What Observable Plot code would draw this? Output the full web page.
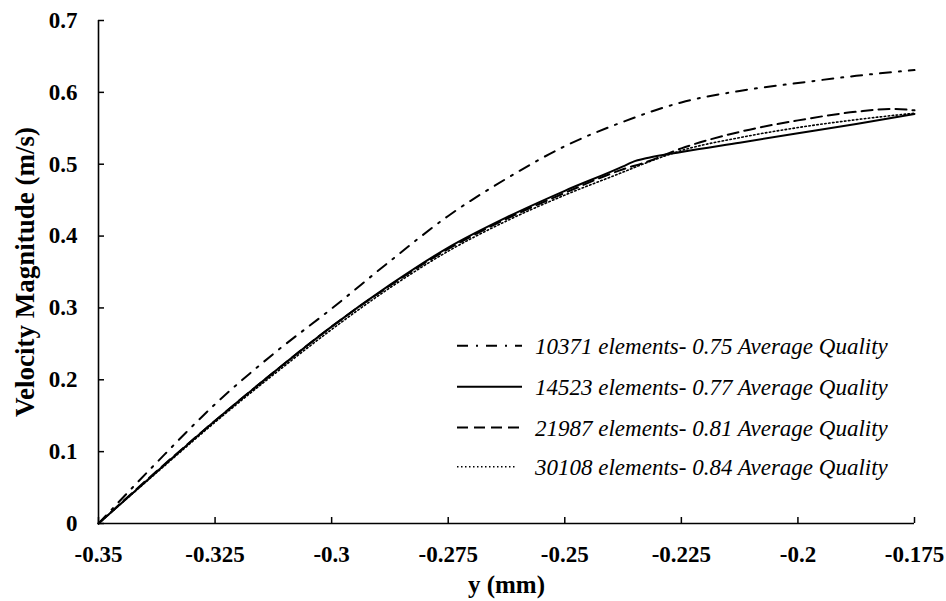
<!DOCTYPE html>
<html>
<head>
<meta charset="utf-8">
<script src="https://cdn.jsdelivr.net/npm/d3@7"></script>
<script src="https://cdn.jsdelivr.net/npm/@observablehq/plot@0.6"></script>
<style>
  html, body { margin: 0; padding: 0; background: #fff; overflow: hidden; }
  #wrap { position: relative; width: 946px; height: 601px; }
  #wrap svg { max-width: none !important; }
  #wrap svg text { font-family: "Liberation Serif", "Times New Roman", Tinos, serif !important; }
  #legend { position: absolute; left: 0; top: 0; pointer-events: none; }
</style>
</head>
<body>
<div id="wrap"></div>
<script>
// ---- data ----
const xTicks = [-0.35, -0.325, -0.3, -0.275, -0.25, -0.225, -0.2, -0.175];
const xTickLabels = ["-0.35", "-0.325", "-0.3", "-0.275", "-0.25", "-0.225", "-0.2", "-0.175"];
const yTicks = [0, 0.1, 0.2, 0.3, 0.4, 0.5, 0.6, 0.7];
const yTickLabels = ["0", "0.1", "0.2", "0.3", "0.4", "0.5", "0.6", "0.7"];

const seriesNames = [
  "10371 elements- 0.75 Average Quality",
  "14523 elements- 0.77 Average Quality",
  "21987 elements- 0.81 Average Quality",
  "30108 elements- 0.84 Average Quality"
];

const x10371 = [-0.35, -0.3375, -0.325, -0.3125, -0.3, -0.2875, -0.275, -0.2625, -0.25, -0.2375, -0.225, -0.2125, -0.2, -0.1875, -0.175];
const v10371 = [0, 0.085, 0.166, 0.236, 0.299, 0.365, 0.428, 0.480, 0.525, 0.559, 0.586, 0.602, 0.613, 0.623, 0.631];

const x14523 = [-0.35, -0.3375, -0.325, -0.3125, -0.3, -0.2875, -0.275, -0.2625, -0.25, -0.2375, -0.2355, -0.232, -0.225, -0.2125, -0.2, -0.1875, -0.175];
const v14523 = [0, 0.072, 0.143, 0.210, 0.274, 0.332, 0.384, 0.426, 0.463, 0.497, 0.503, 0.509, 0.517, 0.530, 0.543, 0.556, 0.570];

const x21987 = [-0.35, -0.3375, -0.325, -0.3125, -0.3, -0.2875, -0.275, -0.2625, -0.25, -0.2375, -0.2325, -0.225, -0.2125, -0.2, -0.1875, -0.18, -0.175];
const v21987 = [0, 0.073, 0.143, 0.210, 0.274, 0.331, 0.382, 0.424, 0.460, 0.493, 0.503, 0.522, 0.545, 0.561, 0.573, 0.577, 0.575];

const x30108 = [-0.35, -0.3375, -0.325, -0.3125, -0.3, -0.2875, -0.275, -0.2625, -0.25, -0.2375, -0.2325, -0.225, -0.2125, -0.2, -0.1875, -0.175];
const v30108 = [0, 0.071, 0.141, 0.207, 0.270, 0.328, 0.379, 0.421, 0.457, 0.489, 0.502, 0.519, 0.537, 0.551, 0.562, 0.571];

const dashes = ["11,8,2,8", null, "11,6", "1.5,2.5"];
const widths = [2, 2, 2, 1.6];

// ---- build ----
const toRows = (xs, vs) => xs.map((x, i) => ({x, v: vs[i]}));
const allSeries = [toRows(x10371, v10371), toRows(x14523, v14523), toRows(x21987, v21987), toRows(x30108, v30108)];

const W = 946, H = 601;
const mL = 98, mR = 32, mT = 20, mB = 78;
const innerW = W - mL - mR, innerH = H - mT - mB;
const serif = "Liberation Serif, Times New Roman, serif";

const lineMarks = allSeries.map((rows, i) =>
  Plot.line(rows, {x: "x", y: "v", stroke: "black", strokeWidth: widths[i],
    strokeDasharray: dashes[i] || undefined, curve: "monotone-x"}));

const chart = Plot.plot({
  width: W, height: H,
  marginLeft: mL, marginRight: mR, marginTop: mT, marginBottom: mB,
  style: {fontFamily: serif, background: "white", color: "black", overflow: "visible"},
  x: {domain: [-0.35, -0.175]},
  y: {domain: [0, 0.7]},
  marks: [
    Plot.axisX({ticks: xTicks, tickSize: 0, tickPadding: 22, fontSize: 23, fontWeight: "bold",
      tickFormat: d => xTickLabels[xTicks.indexOf(d)], label: null}),
    Plot.axisY({ticks: yTicks, tickSize: 0, tickPadding: 21, fontSize: 23, fontWeight: "bold",
      tickFormat: d => yTickLabels[yTicks.indexOf(d)], label: null}),
    Plot.tickX(xTicks, {x: d => d, stroke: "black", strokeWidth: 1.5, insetTop: innerH - 6}),
    Plot.tickY(yTicks, {y: d => d, stroke: "black", strokeWidth: 1.5, insetRight: innerW - 6}),
    Plot.ruleY([0], {stroke: "black", strokeWidth: 1.6}),
    Plot.ruleX([-0.35], {stroke: "black", strokeWidth: 1.6}),
    ...lineMarks,
    Plot.text(["y (mm)"], {frameAnchor: "bottom", dy: 61, lineAnchor: "middle", textAnchor: "middle",
      fontSize: 25, fontWeight: "bold", fill: "black"}),
    Plot.text(["Velocity Magnitude (m/s)"], {frameAnchor: "left", dx: -73, rotate: -90,
      lineAnchor: "middle", textAnchor: "middle", fontSize: 27, fontWeight: "bold", fill: "black"})
  ]
});

const wrap = document.getElementById("wrap");
wrap.appendChild(chart);

// ---- legend overlay ----
const lg = d3.select(wrap).append("svg").attr("id", "legend")
  .attr("width", W).attr("height", H);
const rowY = [345.7, 386.7, 427.5, 466.7];
seriesNames.forEach((name, i) => {
  const g = lg.append("g");
  g.append("line").attr("x1", 457).attr("x2", i === 3 ? 516 : 522)
    .attr("y1", rowY[i]).attr("y2", rowY[i])
    .attr("stroke", "black").attr("stroke-width", widths[i])
    .attr("stroke-dasharray", dashes[i]);
  g.append("text").attr("x", 535).attr("y", rowY[i] + 8)
    .attr("font-style", "italic")
    .attr("font-size", 23).attr("fill", "black").text(name);
});
</script>
</body>
</html>
